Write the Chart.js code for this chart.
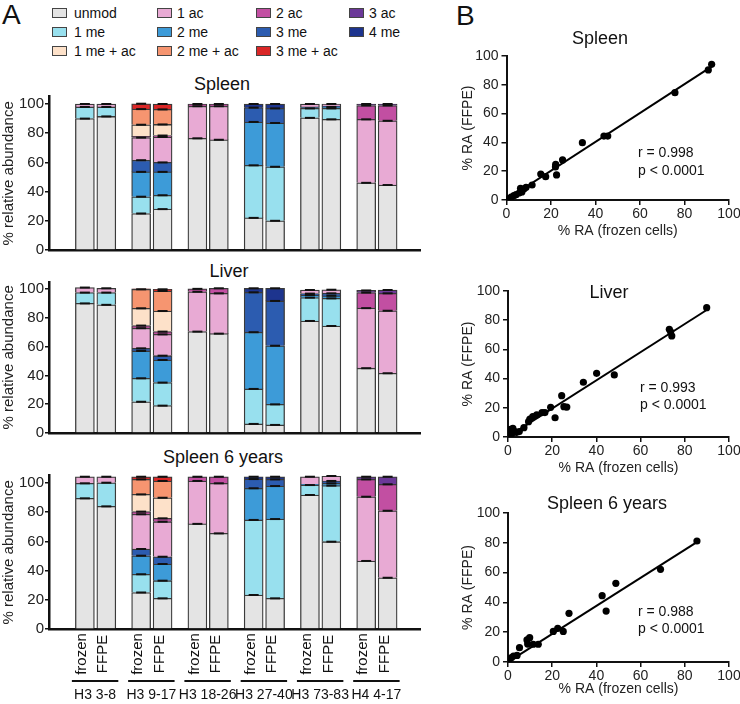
<!DOCTYPE html>
<html><head><meta charset="utf-8">
<script src="https://cdn.jsdelivr.net/npm/chart.js@4.4.1/dist/chart.umd.min.js"></script>
<style>
html,body{margin:0;padding:0;background:#fff;}
body{width:740px;height:704px;position:relative;overflow:hidden;font-family:"Liberation Sans",Arial,Helvetica,sans-serif;color:#111;}
canvas{position:absolute;}
.t{position:absolute;white-space:nowrap;line-height:1;transform:translate(-50%,-50%);font-weight:normal;}
.l{position:absolute;white-space:nowrap;line-height:1;transform:translate(0,-50%);font-weight:normal;}
.box{position:absolute;width:15px;height:10px;border:1px solid #444;box-sizing:border-box;transform:translate(0,-50%);}
</style></head><body>
<div class="l" style="left:2px;top:15px;font-size:28px;">A</div>
<div class="l" style="left:456px;top:16px;font-size:28px;">B</div>
<div id="legend"></div>

<div class="t" style="left:222px;top:84px;font-size:18px;">Spleen</div>
<div class="t" style="left:229px;top:271px;font-size:18px;">Liver</div>
<div class="t" style="left:223px;top:457px;font-size:18px;">Spleen 6 years</div>
<canvas id="barSpleen" width="430" height="165" style="left:0;top:90px;"></canvas>
<canvas id="barLiver" width="430" height="165" style="left:0;top:275px;"></canvas>
<canvas id="barSpleen6" width="430" height="236" style="left:0;top:468px;"></canvas>

<canvas id="scSpleen" width="300" height="210" style="left:440px;top:40px;"></canvas>
<canvas id="scLiver" width="300" height="215" style="left:440px;top:270px;"></canvas>
<canvas id="scSpleen6" width="300" height="214" style="left:440px;top:490px;"></canvas>
<div class="t" style="left:600px;top:38px;font-size:18px;">Spleen</div>
<div class="t" style="left:609px;top:292px;font-size:18px;">Liver</div>
<div class="t" style="left:607px;top:503px;font-size:18px;">Spleen 6 years</div>
<div class="l" style="left:638px;top:152px;font-size:14px;">r = 0.998</div>
<div class="l" style="left:638px;top:170px;font-size:14px;">p &lt; 0.0001</div>
<div class="l" style="left:640px;top:387px;font-size:14px;">r = 0.993</div>
<div class="l" style="left:640px;top:404px;font-size:14px;">p &lt; 0.0001</div>
<div class="l" style="left:638px;top:611px;font-size:14px;">r = 0.988</div>
<div class="l" style="left:638px;top:628px;font-size:14px;">p &lt; 0.0001</div>

<script>
// ---------- data ----------
const groups = ['H3 3-8','H3 9-17','H3 18-26','H3 27-40','H3 73-83','H4 4-17'];
const samples = ['frozen','FFPE'];
const mods = ['unmod','1 me','2 me','3 me','4 me','1 ac','2 ac','3 ac','1 me + ac','2 me + ac','3 me + ac'];
// each row: one modification (mods order); columns: frozen/FFPE per group
const spleenRA = [
  [90, 91.5, 25, 28, 76.5, 75.5, 22, 20, 90.5, 89.5, 46, 44.5],
  [8, 6.5, 11.5, 9.5, 0, 0, 36, 37, 6.5, 7.5, 0, 0],
  [0, 0, 17, 16, 0, 0, 29.7, 30, 0.5, 1, 0, 0],
  [0, 0, 8, 6.5, 0, 0, 9.8, 10, 0.5, 0.5, 0, 0],
  [0, 0, 0, 0, 0, 0, 2.5, 3, 0, 0, 0, 0],
  [2, 2, 15.5, 17.4, 22, 23, 0, 0, 2, 1.5, 43.5, 44],
  [0, 0, 0.8, 1, 1.5, 1.5, 0, 0, 0, 0, 9.5, 10.5],
  [0, 0, 0, 0, 0, 0, 0, 0, 0, 0, 1, 1],
  [0, 0, 8, 7.6, 0, 0, 0, 0, 0, 0, 0, 0],
  [0, 0, 10.7, 10.3, 0, 0, 0, 0, 0, 0, 0, 0],
  [0, 0, 3.7, 3.7, 0, 0, 0, 0, 0, 0, 0, 0]
];
const liverRA = [
  [90, 89, 21.7, 19, 70.4, 69, 6.3, 5.6, 77.8, 74.3, 45, 41.5],
  [7.5, 8.5, 16.3, 16, 0, 0, 24.3, 14.3, 16.2, 19.2, 0, 0],
  [0, 0, 19, 15.7, 0, 0, 39.4, 40.7, 1.8, 1.8, 0, 0],
  [0, 0, 1.8, 3, 0, 0, 27.7, 31.1, 1, 1.7, 0, 0],
  [0, 0, 0, 0, 0, 0, 2.8, 8.8, 0, 0, 0, 0],
  [3.5, 3, 14, 14.8, 27.7, 28, 0, 0, 2.5, 2.5, 41.7, 43.4],
  [0, 0, 1.8, 1.9, 2, 3.5, 0, 0, 0, 0, 10.8, 12.1],
  [0, 0, 0, 0, 0, 0, 0, 0, 0, 0, 1.5, 2.3],
  [0, 0, 12, 14.3, 0, 0, 0, 0, 0, 0, 0, 0],
  [0, 0, 13.2, 13.9, 0, 0, 0, 0, 0, 0, 0, 0],
  [0, 0, 0.3, 1.2, 0, 0, 0, 0, 0, 0, 0, 0]
];
const spleen6RA = [
  [89.5, 84, 25, 21, 72, 65.5, 23.3, 21, 91.8, 59.8, 46.6, 35.1],
  [10.3, 16.2, 12.5, 12.1, 0, 0, 51.4, 54.3, 6.8, 38.4, 0, 0],
  [0, 0, 12.7, 11.4, 0, 0, 21.7, 22.6, 0.5, 1.6, 0, 0],
  [0, 0, 4.6, 5, 0, 0, 6.3, 4.6, 0, 1.6, 0, 0],
  [0, 0, 0, 0, 0, 0, 1.6, 1.8, 0, 0, 0, 0],
  [4.5, 4.1, 23.8, 24, 29.4, 34.3, 0, 0, 5.2, 3.4, 44, 45.9],
  [0, 0, 1.8, 2.3, 2.9, 4.5, 0, 0, 0, 0, 11.9, 18.1],
  [0, 0, 0, 0, 0, 0, 0, 0, 0, 0, 1.8, 5.2],
  [0, 0, 11.8, 14.1, 0, 0, 0, 0, 0, 0, 0, 0],
  [0, 0, 10.3, 11.5, 0, 0, 0, 0, 0, 0, 0, 0],
  [0, 0, 1.8, 2.9, 0, 0, 0, 0, 0, 0, 0, 0]
];
const axisTicks = [0, 20, 40, 60, 80, 100];

// scatter: % RA frozen (x) vs % RA FFPE (y)
const spleenFrozen = [92.2, 90.7, 75.7, 45.5, 43.8, 34.1, 25.2, 22.1, 22, 22.5, 15.4, 17.6, 11.5, 8.8, 7.8, 6.3, 6.9, 5.8, 4.3, 3.3, 2.1, 1.1, 0.6, 0.2];
const spleenFFPE   = [94.2, 90.3, 74.5, 44.4, 44.4, 39.8, 27.8, 24.8, 23, 17.4, 18, 16.2, 10.4, 8.8, 7.6, 8.1, 5.6, 5, 3.7, 3, 2, 0.9, 0, 0.2];
const spleenFit = [[0, 0.3], [93, 93.5]];
const liverFrozen = [89.9, 73, 73.6, 74.1, 48.1, 40.1, 34.1, 24.3, 25.3, 26.6, 21.3, 19.3, 16.7, 15.4, 13, 11.2, 9.9, 9.3, 7.2, 5.1, 2.7, 1.2, 0.4, 2.2, 0, 0.9, 1.7, 3.8];
const liverFFPE   = [88.6, 73.8, 72.1, 69.2, 42.5, 43.6, 37.5, 28.3, 20.8, 20.5, 13.2, 20.3, 16.7, 16.7, 15.1, 13.9, 12.3, 10.5, 6.4, 3.7, 4.1, 5.3, 3.7, 6, 0, 1.8, 2.3, 3.2];
const liverFit = [[0, 0.2], [89.9, 87]];
const spleen6Frozen = [85.5, 69, 48.8, 42.6, 44.4, 27.6, 22.5, 20.5, 25, 13.7, 11.4, 9.8, 8.6, 8.9, 5.2, 4.1, 2.5, 1.6, 0.6, 0, 0];
const spleen6FFPE   = [81.2, 62.2, 52.8, 44.5, 34.2, 32.7, 22.6, 20.5, 20.5, 11.9, 11.9, 16.3, 14.8, 12, 9.6, 4.4, 4, 3, 1.8, 0.6, 0];
const spleen6Fit = [[0, 0], [86, 81]];

// ---------- styles ----------
const FONT = '"Liberation Sans", Arial, Helvetica, sans-serif';
const modColors = ['#e4e4e4','#98e0ee','#3d9bd8','#2c5cb0','#1d348e','#e8aad4','#c24fa2','#6b3898','#fde1c9','#f69570','#da2727'];
const legendLayout = [[0,5,6,7],[1,2,3,4],[8,9,10]];
const legendCols = [52, 157, 256, 349];
const legendRows = [13, 32, 51];

// legend (HTML text)
const lg = document.getElementById('legend');
legendLayout.forEach((row, r) => row.forEach((k, c) => {
  const b = document.createElement('div');
  b.className = 'box';
  b.style.left = legendCols[c] + 'px'; b.style.top = legendRows[r] + 'px';
  b.style.background = modColors[k];
  lg.appendChild(b);
  const t = document.createElement('div');
  t.className = 'l';
  t.style.left = (legendCols[c] + (c === 0 ? 22 : 20)) + 'px'; t.style.top = legendRows[r] + 'px';
  t.style.fontSize = '14px';
  t.textContent = mods[k];
  lg.appendChild(t);
}));

// bar positions along the x axis (px-like units of the linear scale)
const GEOM = {first: 14.5, groupStep: 64.3, barStep: 24.5, width: 371};
function barPos(i) { return GEOM.first + Math.floor(i / 2) * GEOM.groupStep + (i % 2) * GEOM.barStep; }

const capsPlugin = {
  id: 'caps',
  afterDatasetsDraw(chart) {
    const ctx = chart.ctx;
    ctx.save(); ctx.strokeStyle = '#111'; ctx.lineWidth = 2;
    chart.data.datasets.forEach((ds, di) => {
      chart.getDatasetMeta(di).data.forEach((el, i) => {
        const v = ds.data[i].y;
        if (!v || v < 1) return;
        ctx.beginPath(); ctx.moveTo(el.x - 5, el.y); ctx.lineTo(el.x + 5, el.y); ctx.stroke();
      });
    });
    ctx.restore();
  }
};

const xLabelPlugin = {
  id: 'xlabels',
  afterDraw(chart) {
    const ctx = chart.ctx, xs = chart.scales.x, a = chart.chartArea;
    ctx.save(); ctx.fillStyle = '#111'; ctx.font = '15px ' + FONT;
    for (let i = 0; i < 12; i++) {
      const x = xs.getPixelForValue(barPos(i));
      ctx.save(); ctx.translate(x - 3, a.bottom + 25); ctx.rotate(-Math.PI / 2);
      ctx.textAlign = 'center'; ctx.textBaseline = 'middle';
      ctx.fillText(samples[i % 2], 0, 0); ctx.restore();
    }
    ctx.font = '14px ' + FONT;
    groups.forEach((g, k) => {
      const x0 = xs.getPixelForValue(barPos(2 * k)) - 13;
      const x1 = xs.getPixelForValue(barPos(2 * k + 1)) + 12;
      ctx.fillRect(x0, a.bottom + 51, x1 - x0, 2);
      ctx.textAlign = 'center'; ctx.textBaseline = 'middle';
      ctx.fillText(g, (x0 + x1) / 2, a.bottom + 66);
    });
    ctx.restore();
  }
};

function barChart(id, table, padTop, padBottom, withLabels) {
  const datasets = mods.map((m, k) => ({
    label: m,
    data: table[k].map((v, i) => ({x: barPos(i), y: v > 0 ? v : null})),
    backgroundColor: modColors[k],
    borderColor: '#3a3a3a',
    borderWidth: 1.3,
    barThickness: 19
  }));
  return new Chart(document.getElementById(id), {
    type: 'bar',
    data: {datasets},
    options: {
      responsive: false, animation: false, devicePixelRatio: 1,
      layout: {padding: {left: 0, right: 10, top: padTop, bottom: padBottom}},
      plugins: {legend: {display: false}, tooltip: {enabled: false}},
      scales: {
        x: {type: 'linear', stacked: true, min: 0, max: GEOM.width,
            ticks: {display: false}, grid: {display: false},
            border: {display: true, color: '#111', width: 2.5},
            afterFit(s) { s.height = 0; s.paddingLeft = 0; s.paddingRight = 0; }},
        y: {stacked: true, min: 0, max: 105,
            ticks: {stepSize: 20, color: '#222', font: {size: 15, family: FONT}, padding: 1},
            afterBuildTicks(s) { s.ticks = axisTicks.map(v => ({value: v})); },
            grid: {display: true, drawOnChartArea: false, drawTicks: true, tickLength: 4, color: '#111', lineWidth: 1.5},
            border: {display: true, color: '#111', width: 2.5},
            title: {display: true, text: '% relative abundance', color: '#222', font: {size: 15, family: FONT}, padding: {top: 0, bottom: 0}},
            afterFit(s) { s.width = 49; s.paddingTop = 0; s.paddingBottom = 0; }}
      }
    },
    plugins: withLabels ? [capsPlugin, xLabelPlugin] : [capsPlugin]
  });
}

barChart('barSpleen', spleenRA, 6.7, 5, false);
barChart('barLiver', liverRA, 6.8, 7, false);
barChart('barSpleen6', spleen6RA, 7.7, 75, true);

function scatterChart(id, xs, ys, fit, yWidth, padTop, padBottom, xHeight) {
  return new Chart(document.getElementById(id), {
    type: 'scatter',
    data: {datasets: [
      {data: xs.map((x, i) => ({x, y: ys[i]})), backgroundColor: '#000', borderWidth: 0, pointRadius: 3.6},
      {type: 'line', data: fit.map(p => ({x: p[0], y: p[1]})), borderColor: '#000', borderWidth: 2, pointRadius: 0, fill: false}
    ]},
    options: {
      responsive: false, animation: false, devicePixelRatio: 1,
      layout: {padding: {left: 0, right: 11, top: padTop, bottom: padBottom}},
      plugins: {legend: {display: false}, tooltip: {enabled: false}},
      scales: {
        x: {type: 'linear', min: 0, max: 100,
            ticks: {stepSize: 20, color: '#222', font: {size: 14, family: FONT}, padding: 1, maxRotation: 0},
            afterBuildTicks(s) { s.ticks = axisTicks.map(v => ({value: v})); },
            grid: {display: true, drawOnChartArea: false, drawTicks: true, tickLength: 5, color: '#111', lineWidth: 1.5},
            border: {display: true, color: '#111', width: 2},
            title: {display: true, text: '% RA (frozen cells)', color: '#222', font: {size: 14, family: FONT}, padding: {top: 0, bottom: 0}},
            afterFit(s) { s.height = xHeight; s.paddingLeft = 0; s.paddingRight = 0; }},
        y: {type: 'linear', min: 0, max: 100,
            ticks: {stepSize: 20, color: '#222', font: {size: 14, family: FONT}, padding: 3},
            afterBuildTicks(s) { s.ticks = axisTicks.map(v => ({value: v})); },
            grid: {display: true, drawOnChartArea: false, drawTicks: true, tickLength: 5, color: '#111', lineWidth: 1.5},
            border: {display: true, color: '#111', width: 2},
            title: {display: true, text: '% RA (FFPE)', color: '#222', font: {size: 14, family: FONT}, padding: {top: 20, bottom: 0}},
            afterFit(s) { s.width = yWidth; s.paddingTop = 0; s.paddingBottom = 0; }}
      }
    }
  });
}

scatterChart('scSpleen', spleenFrozen, spleenFFPE, spleenFit, 66.5, 16, 10, 40);
scatterChart('scLiver', liverFrozen, liverFFPE, liverFit, 68, 21, 8, 40);
scatterChart('scSpleen6', spleen6Frozen, spleen6FFPE, spleen6Fit, 68, 23, 6, 36);
</script>
</body></html>
